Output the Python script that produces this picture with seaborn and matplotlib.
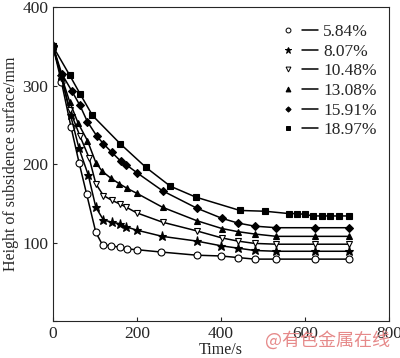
import pandas as pd
import matplotlib.pyplot as plt
import seaborn as sns
from matplotlib.lines import Line2D
from matplotlib.legend_handler import HandlerTuple

# values
t_584 = [0, 20, 43, 62, 80, 102, 118, 138, 160, 176, 200, 258, 342, 400, 440, 480, 532, 624, 705]
h_584 = [350, 305, 247, 202, 162, 113, 97, 96, 94, 92, 91, 88, 84, 83, 81, 79, 79, 79, 79]

t_807 = [0, 20, 42, 62, 84, 102, 120, 140, 160, 175, 199, 260, 342, 400, 440, 480, 532, 624, 705]
h_807 = [350, 312, 262, 220, 186, 145, 129, 126, 124, 120, 116, 108, 102, 96, 93, 90, 89, 89, 89]

t_1048 = [0, 20, 40, 64, 86, 102, 120, 140, 160, 175, 199, 261, 342, 402, 440, 480, 532, 624, 705]
h_1048 = [350, 310, 269, 236, 208, 175, 160, 154, 149, 145, 138, 126, 115, 106, 102, 99, 98, 98, 98]

t_1308 = [0, 20, 40, 60, 82, 102, 117, 138, 158, 177, 199, 261, 342, 402, 440, 480, 532, 624, 705]
h_1308 = [350, 312, 279, 252, 230, 202, 191, 182, 175, 169, 163, 145, 128, 118, 114, 111, 108, 108, 108]

t_1591 = [0, 21, 45, 64, 82, 104, 120, 140, 161, 175, 200, 261, 342, 402, 440, 480, 532, 624, 705]
h_1591 = [350, 315, 293, 275, 254, 236, 226, 215, 204, 199, 189, 166, 144, 131, 125, 121, 119, 119, 119]

t_1897 = [0, 40, 64, 94, 160, 221, 279, 340, 445, 505, 562, 581, 600, 619, 640, 660, 680, 704]
h_1897 = [350, 313, 290, 262, 226, 196, 172, 158, 141, 140, 137, 137, 136, 134, 134, 134, 134, 134]

labels = ["5.84%", "8.07%", "10.48%", "13.08%", "15.91%", "18.97%"]
times = [t_584, t_807, t_1048, t_1308, t_1591, t_1897]
heights = [h_584, h_807, h_1048, h_1308, h_1591, h_1897]

# marker, size, face colour
styles = [("o", 5, "white"), ("*", 6.5, "black"), ("v", 5, "white"),
          ("^", 5, "black"), ("D", 3.8, "black"), ("s", 4.5, "black")]

sns.set_style("ticks")
plt.rcParams['font.family'] = ['Liberation Serif', 'DejaVu Serif']

fig = plt.figure(figsize=(4, 3.58), dpi=100)
ax = fig.add_axes([0.1325, 0.103, 0.84, 0.877])

handles = []
for t, h, lab, (m, ms, fc) in zip(times, heights, labels, styles):
    df = pd.DataFrame({"Time": t, "Height": h})
    sns.lineplot(data=df, x="Time", y="Height", ax=ax, color="black", lw=1.1,
                 marker=m, markersize=ms, markerfacecolor=fc,
                 markeredgecolor="black", markeredgewidth=0.8)
    mk = Line2D([], [], ls="none", marker=m, markersize=ms * 0.7,
                markerfacecolor=fc, markeredgecolor="black", markeredgewidth=0.7)
    ln = Line2D([], [], color="black", lw=1.1)
    handles.append((mk, ln))

ax.set_xlim(0, 800)
ax.set_ylim(0, 400)
ax.set_xticks([0, 200, 400, 600, 800])
ax.set_yticks([0, 100, 200, 300, 400])
ax.set_yticklabels(["", "100", "200", "300", "400"])
ax.tick_params(direction="in", length=3, width=0.8, labelsize=12.5)
for s in ax.spines.values():
    s.set_linewidth(0.8)

ax.set_xlabel("Time/s", fontsize=11.5, labelpad=0)
ax.set_ylabel("Height of subsidence surface/mm", fontsize=11.5, labelpad=2)

leg = ax.legend(handles, labels, handler_map={tuple: HandlerTuple(ndivide=None, pad=0.3)},
                loc="upper right", bbox_to_anchor=(1.0, 0.985), frameon=False,
                fontsize=12.5, handlelength=2.2, handletextpad=0.3,
                labelspacing=0.2, borderaxespad=0.3)

fig.text(0.975, 0.022, "@有色金属在线", color="#e68a8a", fontsize=13, ha="right",
         va="bottom", family=["Noto Sans CJK SC", "DejaVu Sans"])

fig.savefig("out.png", dpi=100)
